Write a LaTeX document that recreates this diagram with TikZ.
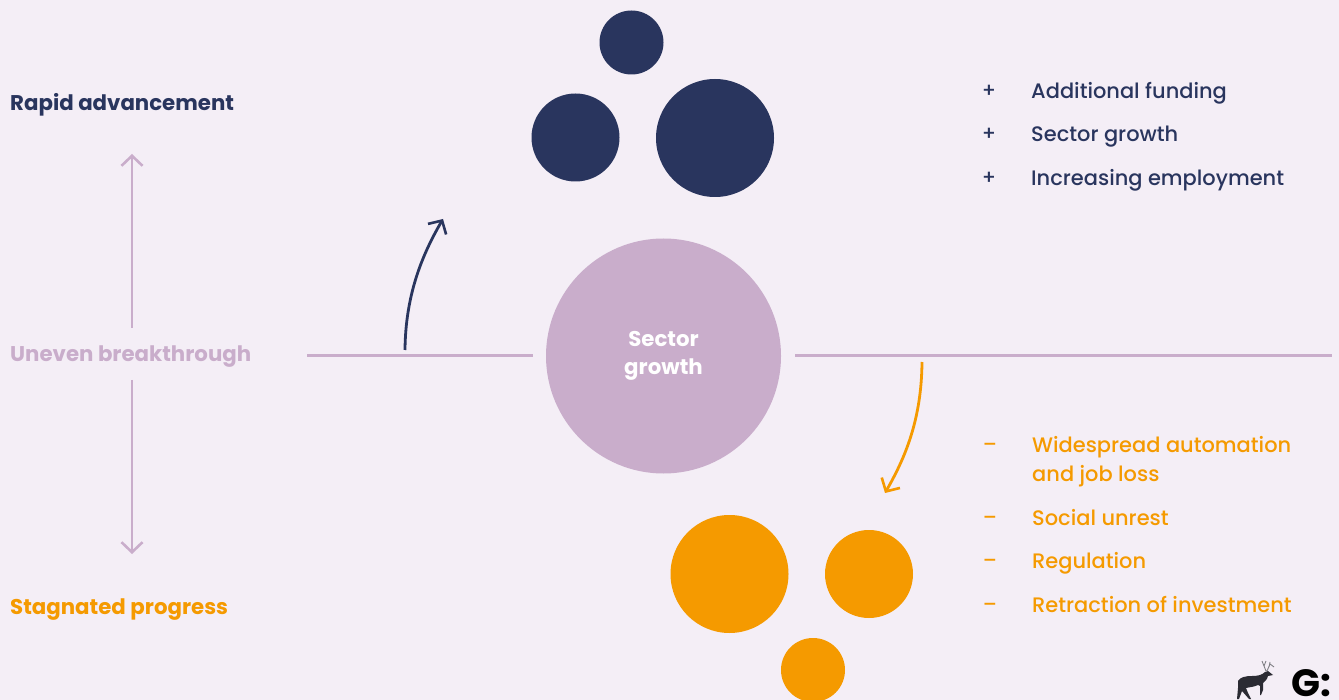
\documentclass[tikz,border=0pt]{standalone}
\usepackage{fontspec}
\setmainfont{Poppins}
\newfontfamily\medfont{Poppins Medium}
\usetikzlibrary{arrows.meta}
\definecolor{bgc}{HTML}{F4EEF6}
\definecolor{navy}{HTML}{29355E}
\definecolor{lilac}{HTML}{C9ADCB}
\definecolor{amber}{HTML}{F59A00}
\definecolor{deer}{HTML}{2B2B33}
\tikzset{
  x=1pt,y=-1pt,
  disc/.style={circle,inner sep=0pt,minimum size=#1,draw=none},
  head/.style={anchor=base west,inner sep=0pt,font=\fontsize{21.3}{26}\selectfont\bfseries},
  item/.style={anchor=base west,inner sep=0pt,font=\medfont\fontsize{20.95}{29}\selectfont,align=left},
  sign/.style={anchor=base,inner sep=0pt,font=\medfont\fontsize{20}{26}\selectfont},
  rule/.style={draw=lilac,line width=2.8pt},
  tipl/.style={-{Straight Barb[length=10pt,width=21pt,line width=2.6pt]}},
}
\begin{document}
\begin{tikzpicture}
\useasboundingbox (0,0) rectangle (1339,700);
\fill[bgc] (0,0) rectangle (1339,700);
% circles
\node[disc=64pt,fill=navy] (n1) at (631.5,42.5) {};
\node[disc=88pt,fill=navy] (n2) at (575.5,137.5) {};
\node[disc=118pt,fill=navy] (n3) at (715,138) {};
\node[disc=118pt,fill=amber] (o1) at (729.5,574) {};
\node[disc=88pt,fill=amber] (o2) at (869,574) {};
\node[disc=64pt,fill=amber] (o3) at (813,670) {};
\node[disc=235pt,fill=lilac,text=white,align=center,font=\fontsize{21.3}{28}\selectfont\bfseries] (c) at (663.5,356) {Sector\\growth};
% left labels
\node[head,text=navy] (ra) at (10,111) {Rapid advancement};
\node[head,text=lilac] (ub) at (10,362) {Uneven breakthrough};
\node[head,text=amber] (sp) at (10,614.5) {Stagnated progress};
% axes
\coordinate (ua) at (132,328);\coordinate (ub2) at (132,154);
\coordinate (da) at (132,380);\coordinate (db2) at (132,554);
\draw[rule,tipl] (ua) -- (ub2);
\draw[rule,tipl] (da) -- (db2);
\coordinate (l1) at (307,355.5);\coordinate (l2) at (533,355.5);
\coordinate (r1) at (795,355.5);\coordinate (r2) at (1332,355.5);
\draw[rule] (l1) -- (l2);
\draw[rule] (r1) -- (r2);
% curved arrows
\coordinate (ns) at (405,350);\coordinate (ne) at (443,219);
\coordinate (os) at (922,362);\coordinate (oe) at (885,493);
\draw[navy,line width=2.8pt,tipl] (ns) .. controls (405.5,295) and (422,255) .. (ne);
\draw[amber,line width=2.8pt,tipl] (os) .. controls (921.5,420) and (905,458) .. (oe);
% right lists
\node[sign,text=navy] (p1) at (989,98) {+};
\node[sign,text=navy] (p2) at (989,141) {+};
\node[sign,text=navy] (p3) at (989,185) {+};
\node[item,text=navy] (t1) at (1031,99) {Additional funding};
\node[item,text=navy] (t2) at (1031,142) {Sector growth};
\node[item,text=navy] (t3) at (1031,186) {Increasing employment};
\node[sign,text=amber] (m1) at (990,452) {–};
\node[sign,text=amber] (m2) at (990,524) {–};
\node[sign,text=amber] (m3) at (990,567) {–};
\node[sign,text=amber] (m4) at (990,611) {–};
\node[item,text=amber] (a1) at (1032,453) {Widespread automation};
\node[item,text=amber] (a1b) at (1032,482) {and job loss};
\node[item,text=amber] (a2) at (1032,525) {Social unrest};
\node[item,text=amber] (a3) at (1032,568) {Regulation};
\node[item,text=amber] (a4) at (1032,612) {Retraction of investment};
% logo
\node[anchor=base west,inner sep=0pt,font=\fontsize{38}{38}\selectfont\bfseries,text=black] (g) at (1291,696) {G:};
\fill[deer] (1238,681) .. controls (1240,677) and (1246,676) .. (1252,676)
 .. controls (1258,676) and (1262,675) .. (1265,672) -- (1268,671) -- (1273,675)
 -- (1268,676) .. controls (1267,680) and (1265,681) .. (1263,683) -- (1263,690) -- (1261,695) -- (1260,695) -- (1260,686) -- (1258,685)
 .. controls (1254,687) and (1250,687) .. (1246,688) -- (1248,693) -- (1251,699) -- (1249,699) -- (1242,691) -- (1239,699) -- (1237,699) -- (1238,688) -- cycle;
\draw[deer!60!white,line width=.9pt] (1266,671) -- (1262,661) (1264,666) -- (1266,661) (1267,671) -- (1270,664) -- (1274,667) (1269,667) -- (1270,662);
\end{tikzpicture}
\end{document}
